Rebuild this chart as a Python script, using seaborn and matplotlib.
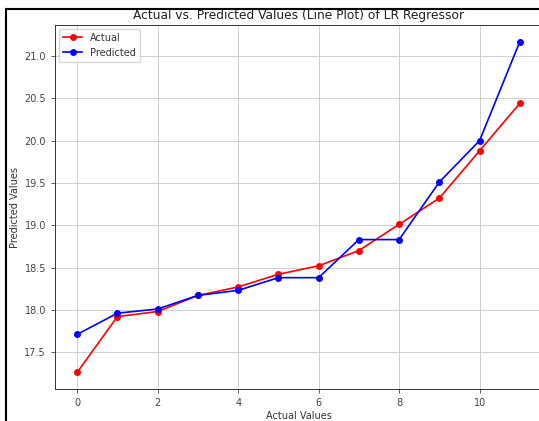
import matplotlib
matplotlib.use("Agg")
import matplotlib.pyplot as plt
from matplotlib.lines import Line2D
import seaborn as sns
import pandas as pd

# Sample index and the two series
index = list(range(12))
actual = [17.26, 17.92, 17.98, 18.17, 18.27, 18.42, 18.52, 18.70, 19.01, 19.32, 19.88, 20.44]
predicted = [17.71, 17.96, 18.01, 18.17, 18.23, 18.38, 18.38, 18.83, 18.83, 19.51, 20.00, 21.17]

df = pd.DataFrame({"idx": index, "Actual": actual, "Predicted": predicted})

plt.rcParams["font.family"] = ["DejaVu Sans"]

W, H = 539, 421
fig = plt.figure(figsize=(W / 100, H / 100), dpi=100)
ax = fig.add_axes([55 / W, 1 - 389 / H, (542 - 55) / W, (389 - 25) / H])

sns.lineplot(data=df, x="idx", y="Actual", ax=ax, color="red", marker="o",
             markersize=5, linewidth=1.2, markeredgewidth=0, label="Actual")
sns.lineplot(data=df, x="idx", y="Predicted", ax=ax, color="blue", marker="o",
             markersize=5, linewidth=1.2, markeredgewidth=0, label="Predicted")

ax.set_xticks([0, 2, 4, 6, 8, 10])
ax.set_yticks([17.5, 18.0, 18.5, 19.0, 19.5, 20.0, 20.5, 21.0])
ax.tick_params(labelsize=7, length=3, width=0.6, colors="#444444")
for s in ax.spines.values():
    s.set_linewidth(0.7)
    s.set_color("#333333")
# the right edge of the plot area lies just past the canvas
ax.spines["right"].set_visible(False)
ax.grid(True, color="#c8c8c8", linewidth=0.6)
ax.set_title("Actual vs. Predicted Values (Line Plot) of LR Regressor", fontsize=8.8,
             pad=4, color="#222222")
ax.set_xlabel("Actual Values", fontsize=7, labelpad=2, color="#333333")
ax.set_ylabel("Predicted Values", fontsize=7, labelpad=3, color="#333333")
leg = ax.legend(loc="upper left", fontsize=7, handlelength=2, borderaxespad=0.4)
for t in leg.get_texts():
    t.set_color("#333333")

# frame lines along the top and left edge of the canvas
fig.add_artist(Line2D([5.5 / W, 1], [1 - 8.5 / H, 1 - 8.5 / H], color="black", linewidth=1.5))
fig.add_artist(Line2D([5.5 / W, 5.5 / W], [0, 1 - 8.5 / H], color="black", linewidth=1.5))

fig.savefig("out.png", dpi=100)
